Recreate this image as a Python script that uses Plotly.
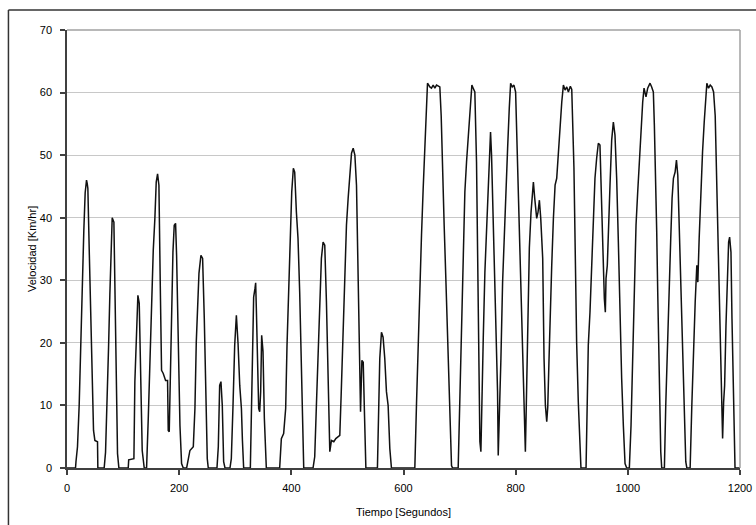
import plotly.graph_objects as go

tiempo = [
    0, 15.2, 16, 18.7, 21.7, 24.1, 27.1, 30, 32.4, 34.8, 36, 37.2, 39.6, 42, 44.9, 47.3, 49.7, 54.4, 55,
    66.3, 68.7, 71.7, 74.1, 76.4, 78.8, 80.6, 83.6, 85.4, 87.7, 90.1, 92.5,
    109.2, 110, 119.3, 121, 124, 126.4, 128.8, 131.2, 134.1, 137.7,
    141.9, 144.9, 147.8, 150.8, 153.8, 156.7, 159.1, 161.5, 163.9, 166.3, 168.6, 171.6, 175.8, 179.3,
    180.5, 182.3, 184.1, 186.5, 188.9, 191.2, 193.6, 195.4, 198.4, 201.4, 204.3, 207.3,
    213.3, 219.2, 225.2, 228.1, 230.5, 232.9, 235.3, 238.8, 241.8, 244.8, 247.2, 250.1, 251.9,
    267.4, 269.8, 272.2, 274.5, 276.9, 279.3, 281.7,
    290.6, 293, 296, 299, 302, 305, 308, 311, 312.8, 315,
    326.9, 328.7, 330.5, 332.8, 335.2, 336.4, 337.6, 340, 341.8, 343.6, 345.3, 347.1, 349.5, 351.9, 354.3, 355.4,
    379.2, 382.2, 386.3, 389.9, 392.3, 395.3, 398.3, 400.7, 403.6, 406, 409, 411.9, 414.9, 417.9, 420.9, 422.1,
    438.7, 441.7, 444.7, 447.7, 450.6, 453.6, 456.6, 459.6, 462.6, 465, 467.4, 468.6, 471.5, 475.7, 479.3,
    483.4, 486.4, 488.8, 491.2, 493.5, 495.9, 498.3, 501.3, 504.3, 507.3, 510.3, 513.3, 516.2, 518.6, 521,
    523.4, 525.8, 528.2, 530.5, 532.3, 532.9,
    553.5, 555.3, 557.7, 560.7, 563.6, 566.6, 569.6, 572.6, 575.6, 578.5,
    620.2, 623.2, 626.1, 629.1, 632.1, 635.1, 638, 641, 642.8, 647, 649.9, 652.9, 655.9, 658.9, 664.8,
    667.2, 669.6, 672.5, 675.5, 678.5, 681.4, 683.8, 685.6, 687.5,
    697.5, 700.5, 703.5, 706.4, 709.4, 712.4, 715.4, 718.3, 720.1, 721.9, 724.3, 727.2, 730.2, 732.6, 734.4,
    736.2, 738, 739.2, 742.2, 745.1, 748.1, 751.1, 752.9, 755.2, 757, 760, 763, 765.9, 767.7, 768.9,
    770.7, 773.7, 776.7, 779.6, 782.6, 785.6, 788.6, 791, 793.9, 796.9, 799.9, 801.8, 804.7, 807.7, 810.7,
    813.7, 815.5, 817.3, 818.5, 821.4, 824.4, 827.4, 829.8, 831.6, 834, 837.5, 839.9, 842.3, 844.7, 848.2,
    850.6, 853, 855.4, 857.2, 859.5, 861.3, 864.3, 867.3, 870.3, 873.2, 876.2, 879.2, 882.2, 885.1, 888.1,
    891.1, 894, 897.5, 900, 903.9, 906.3, 908.7, 911.7, 914.6, 916.4,
    925.5, 927.5, 929.5, 932.5, 935.5, 938.4, 941.4, 944.4, 947.4, 950.3, 952.1, 954.5, 956.3, 958.1, 959.9,
    961.1, 963.4, 965.8, 968.2, 971.2, 974.2, 977.1, 980.1, 983.1, 986.1, 989, 992, 995, 998,
    1002.7, 1005.7, 1008.7, 1011.6, 1014.6, 1017.6, 1020.6, 1023.5, 1026.5, 1028.9, 1032.4, 1035.4, 1039.6,
    1042.5, 1045.5, 1047.3, 1049.7, 1051.5, 1053.3, 1055.1, 1056.9, 1058.7, 1060.4,
    1065.2, 1067.6, 1070.6, 1073.6, 1076.5, 1078.9, 1081.3, 1084.3, 1086.7, 1089.1, 1092, 1095, 1098, 1101,
    1103.3, 1105.2,
    1111.1, 1114.1, 1117.1, 1120.1, 1123, 1124.8, 1127.2, 1130.2, 1133.2, 1136.2, 1139.2, 1140.9, 1143.9,
    1146.9, 1149.9, 1152.9, 1155.8, 1158.8, 1161.8, 1164.8, 1167.2, 1169, 1170.8, 1172.6, 1175, 1177.4,
    1179.7, 1181.5, 1183.9, 1185.7, 1187.5, 1189.3, 1191.1, 1200,
]

velocidad = [
    0, 0, 1, 3.4, 10, 18.8, 29, 38, 44, 46, 45.5, 44.7, 35, 24.4, 15.4, 6, 4.4, 4.2, 0,
    0, 2.5, 10.3, 19.3, 27.7, 36.1, 40, 39.3, 26.5, 10.3, 2.3, 0,
    0, 1.3, 1.5, 13.8, 22.3, 27.6, 26.3, 15, 2.8, 0,
    0, 7.9, 18, 25.5, 34.8, 39.9, 45.7, 47, 45.2, 29.2, 15.6, 15.1, 14, 14,
    6, 5.8, 14.3, 25.5, 34.5, 38.8, 39.1, 34, 20.7, 6.8, 0.7, 0,
    0, 2.8, 3.4, 9.5, 20.1, 27.6, 31.1, 34, 33.5, 23.9, 12.2, 1.5, 0,
    0, 3.4, 13.2, 13.8, 10, 1, 0,
    0, 1.5, 10, 19.6, 24.4, 19.9, 13.2, 9.5, 4.4, 0,
    0, 8.7, 19.9, 27.3, 28.7, 29.6, 25.5, 17.5, 9.5, 9, 12.2, 21.2, 18.6, 7.9, 0.4, 0,
    0, 4.7, 5.5, 9.5, 19.6, 29.5, 38.8, 44.1, 47.9, 47.3, 40.9, 36.7, 28.1, 17.5, 6, 0,
    0, 1.8, 10, 18.3, 28.7, 33.5, 36.1, 35.6, 26.5, 15.6, 6.2, 2.6, 4.4, 4.2, 4.7,
    5, 5.2, 11.6, 18.8, 25.5, 32.7, 38.8, 43.1, 46.8, 50.3, 51.1, 50, 45.2, 31.9, 17.5,
    9, 17.2, 16.9, 8.4, 1, 0,
    0, 10, 17.5, 21.7, 20.9, 17.5, 12.2, 10, 3.1, 0,
    0, 10.3, 20.1, 30.3, 37.2, 44.7, 51, 58.5, 61.5, 60.9, 60.7, 61.2, 60.7, 61.2, 60.9,
    56.3, 46.3, 38.8, 30.3, 20.1, 11.1, 4.2, 0.4, 0,
    0, 11.1, 23.9, 36.7, 44.1, 48.9, 53.2, 57.5, 60.4, 61.2, 60.7, 60.1, 48.9, 34, 16.9,
    4.2, 2.6, 9.5, 20.7, 31.3, 38.8, 45.7, 50.5, 53.7, 50, 38.8, 30.3, 20.1, 12.2, 2,
    6.8, 17.5, 29.7, 37.7, 44.7, 51, 57.5, 61.5, 60.9, 61.2, 60.1, 53.7, 44.1, 33.5, 22.8,
    13.2, 8.4, 2.6, 7.9, 22.8, 35.2, 40.9, 44.7, 45.7, 43.1, 39.9, 40.9, 42.8, 39.9, 33.5,
    17.5, 10, 7.4, 9.7, 17.5, 23.9, 32.4, 39.9, 45.2, 46.3, 50.5, 55.3, 58.5, 61.2, 60.4,
    60.9, 60.1, 61, 60.5, 48, 33.5, 20.1, 10.5, 4.2, 0,
    0, 8, 19.6, 24.9, 32.4, 42, 46.3, 49.5, 51.9, 51.6, 45.7, 36.1, 31.3, 27.1, 24.9,
    30.3, 32.4, 40.4, 45.2, 52.4, 55.3, 53.2, 46.3, 36.1, 23.9, 14.3, 6.8, 0.7, 0,
    0, 6.8, 17.5, 29.2, 38.8, 44.1, 49.5, 54.8, 58.5, 60.7, 59.3, 60.7, 61.5,
    60.9, 60.1, 54.8, 46.8, 37.7, 28.1, 17.5, 11.1, 2.6, 0,
    0, 10, 20.1, 30.3, 36.7, 43.1, 46.3, 47.3, 49.2, 46.8, 37.7, 28.1, 17.5, 8.4,
    1, 0,
    0, 10, 20.1, 26.5, 32.4, 29.7, 36.7, 45.2, 50.5, 55.3, 59.6, 61.5, 60.7,
    61.2, 60.9, 60.1, 56.3, 45.2, 33.5, 22.8, 14.3, 4.7, 10.5, 13.2, 22.8, 31.3,
    36.1, 36.9, 34.5, 23.9, 14.8, 4.2, 0, 0,
]

x_ticks = [0, 200, 400, 600, 800, 1000, 1200]
y_ticks = [0, 10, 20, 30, 40, 50, 60, 70]
x_title = "Tiempo [Segundos]"
y_title = "Velocidad [Km/hr]"

font = dict(family="Liberation Sans, Arial, sans-serif", size=11, color="#000000")

fig = go.Figure()
fig.add_trace(go.Scatter(
    x=tiempo, y=velocidad, mode="lines",
    line=dict(color="#111111", width=1.5),
    showlegend=False, hoverinfo="x+y",
))

fig.update_layout(
    width=756, height=525,
    margin=dict(l=67, r=16, t=30, b=57, autoexpand=False),
    paper_bgcolor="#ffffff", plot_bgcolor="#ffffff",
    font=font,
    xaxis=dict(
        range=[0, 1200], tickvals=x_ticks, ticktext=[str(v) for v in x_ticks],
        showgrid=False, zeroline=False, automargin=False,
        showline=True, linecolor="#404040", linewidth=1.5,
        ticks="outside", ticklen=5, tickwidth=1.5, tickcolor="#404040",
        ticklabelstandoff=4,
    ),
    yaxis=dict(
        range=[0, 70], tickvals=y_ticks, ticktext=[str(v) for v in y_ticks],
        showgrid=True, gridcolor="#c8c8c8", gridwidth=1.2, zeroline=False, automargin=False,
        showline=True, linecolor="#404040", linewidth=1.5,
        ticks="outside", ticklen=5, tickwidth=1.5, tickcolor="#404040",
        ticklabelstandoff=6,
    ),
    annotations=[
        dict(text=x_title, xref="paper", yref="paper", x=0.5, y=-0.1, xanchor="center",
             yanchor="middle", showarrow=False, font=font),
        dict(text=y_title, xref="paper", yref="paper", x=-0.052, y=0.5, xanchor="center",
             yanchor="middle", showarrow=False, font=font, textangle=-90),
    ],
    shapes=[
        dict(type="line", xref="paper", yref="paper", x0=0, y0=1, x1=1, y1=1,
             line=dict(color="#a0a0a0", width=1.5), layer="above"),
        dict(type="line", xref="paper", yref="paper", x0=1, y0=0, x1=1, y1=1,
             line=dict(color="#a0a0a0", width=1.5), layer="above"),
        dict(type="line", xref="paper", yref="paper", x0=-0.087, y0=1.0457, x1=1.1, y1=1.0457,
             line=dict(color="#333333", width=1.5)),
        dict(type="line", xref="paper", yref="paper", x0=-0.087, y0=-0.2, x1=-0.087, y1=1.0457,
             line=dict(color="#333333", width=1.5)),
    ],
)

fig.write_html(
    "out.html",
    config={"displayModeBar": False},
    post_script="document.body.style.margin='0';document.body.style.overflow='hidden';",
)
